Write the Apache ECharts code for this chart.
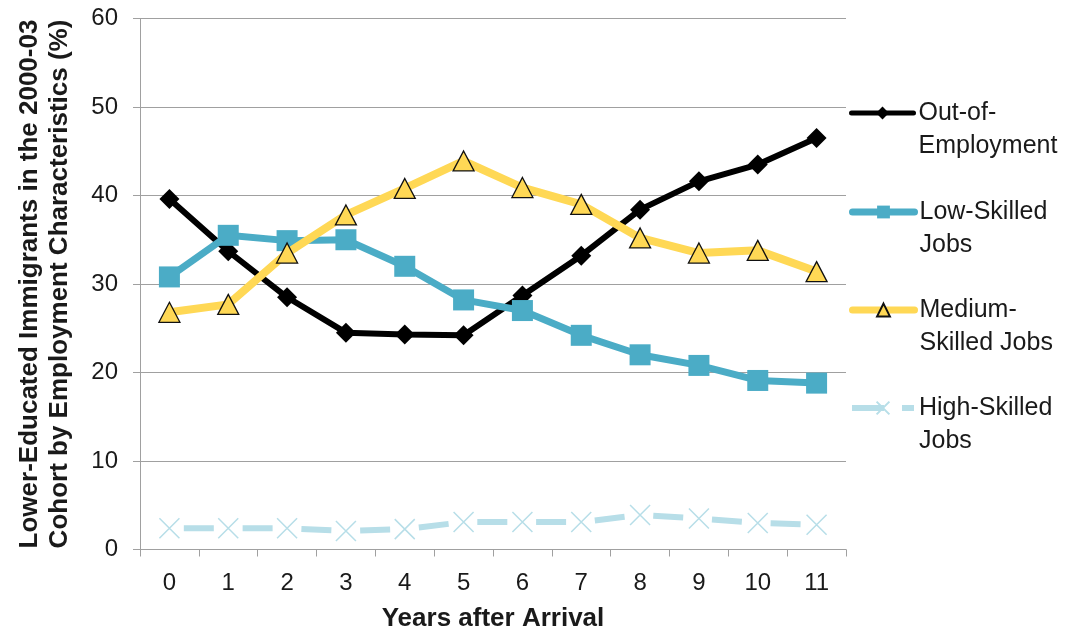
<!DOCTYPE html>
<html>
<head>
<meta charset="utf-8">
<script src="https://cdn.jsdelivr.net/npm/echarts@6/dist/echarts.min.js"></script>
<style>
  html, body { margin: 0; padding: 0; background: #fff; }
  #chart { width: 1066px; height: 630px; }
</style>
</head>
<body>
<div id="chart"></div>
<script>
// Years after arrival
const years = ['0', '1', '2', '3', '4', '5', '6', '7', '8', '9', '10', '11'];

// Share of lower-educated immigrants (2000-03 cohort), %
const outOfEmployment = [39.6, 33.7, 28.5, 24.5, 24.3, 24.2, 28.7, 33.2, 38.4, 41.6, 43.5, 46.5];
const lowSkilled      = [30.8, 35.5, 34.9, 35.0, 32.0, 28.2, 27.0, 24.2, 22.0, 20.8, 19.1, 18.8];
const mediumSkilled   = [26.8, 27.7, 33.5, 37.8, 40.8, 43.9, 40.9, 39.0, 35.2, 33.5, 33.8, 31.4];
const highSkilled     = [2.4, 2.4, 2.4, 2.1, 2.3, 3.1, 3.1, 3.1, 3.9, 3.5, 3.0, 2.8];

const seriesNames = ['Out-of-\nEmployment', 'Low-Skilled\nJobs', 'Medium-\nSkilled Jobs', 'High-Skilled\nJobs'];

const FONT = 'Liberation Sans, Arial, sans-serif';
const TEXT = '#1a1a1a';
const GRID = '#a0a0a0';

const BLACK = '#000000';
const BLUE = '#4bacc6';
const YELLOW = '#ffd855';
const PALE = '#b7dee8';

const chart = echarts.init(document.getElementById('chart'), null, { renderer: 'canvas' });

// One legend block per series; a leading blank line keeps the
// first text line level with the legend icon.
function legendFor(name, iconY, lineStyle) {
  return {
    data: [name],
    orient: 'vertical',
    left: 849,
    top: iconY - 49.5,
    padding: 0,
    itemWidth: 62,
    itemHeight: 16,
    itemGap: 0,
    selectedMode: false,
    formatter: n => '\n' + n,
    lineStyle: lineStyle,
    textStyle: {
      fontFamily: FONT,
      fontSize: 25,
      color: TEXT,
      lineHeight: 33
    }
  };
}

const option = {
  animation: false,
  backgroundColor: '#fff',
  grid: {
    left: 140, right: 220, top: 18.5, bottom: 80.5,
    containLabel: false,
    outerBoundsMode: 'none'
  },
  legend: [
    legendFor(seriesNames[0], 113, { width: 5, cap: 'round' }),
    legendFor(seriesNames[1], 212, { width: 7, cap: 'round' }),
    legendFor(seriesNames[2], 310, { width: 7, cap: 'round' }),
    legendFor(seriesNames[3], 408, { width: 6, type: [32, 18], dashOffset: 0, cap: 'butt' })
  ],
  xAxis: {
    type: 'category',
    data: years,
    boundaryGap: true,
    name: 'Years after Arrival',
    nameLocation: 'middle',
    nameGap: 56,
    nameTextStyle: { fontFamily: FONT, fontSize: 26, fontWeight: 'bold', color: TEXT },
    axisLine: { lineStyle: { color: GRID, width: 1 } },
    axisTick: { show: true, length: 7, alignWithLabel: false, lineStyle: { color: GRID } },
    axisLabel: { fontFamily: FONT, fontSize: 24, color: TEXT, margin: 22 },
    splitLine: { show: false }
  },
  yAxis: {
    type: 'value',
    min: 0,
    max: 60,
    interval: 10,
    name: 'Lower-Educated Immigrants in the 2000-03\nCohort by Employment Characteristics (%)',
    nameLocation: 'middle',
    nameGap: 65,
    nameTextStyle: { fontFamily: FONT, fontSize: 26, fontWeight: 'bold', color: TEXT, lineHeight: 30 },
    axisLine: { show: true, lineStyle: { color: GRID, width: 1 } },
    axisTick: { show: true, length: 7, lineStyle: { color: GRID } },
    axisLabel: { fontFamily: FONT, fontSize: 24, color: TEXT, margin: 22 },
    splitLine: { show: true, lineStyle: { color: GRID, width: 1 } }
  },
  series: [
    {
      name: seriesNames[0],
      type: 'line',
      data: outOfEmployment,
      symbol: 'diamond',
      symbolSize: [20, 20],
      lineStyle: { color: BLACK, width: 6 },
      itemStyle: { color: BLACK },
      z: 2
    },
    {
      name: seriesNames[1],
      type: 'line',
      data: lowSkilled,
      symbol: 'rect',
      symbolSize: 21,
      lineStyle: { color: BLUE, width: 7 },
      itemStyle: { color: BLUE },
      z: 3
    },
    {
      name: seriesNames[2],
      type: 'line',
      data: mediumSkilled,
      symbol: 'triangle',
      symbolSize: [21, 20],
      lineStyle: { color: YELLOW, width: 8 },
      itemStyle: { color: YELLOW, borderColor: '#111', borderWidth: 1.3 },
      z: 4
    },
    {
      name: seriesNames[3],
      type: 'line',
      data: highSkilled,
      symbol: 'path://M0,0 L10,10 M10,0 L0,10',
      symbolSize: [20, 20],
      lineStyle: { color: PALE, width: 6, type: [30, 28.8], dashOffset: 44.4, cap: 'butt' },
      itemStyle: { color: 'rgba(0,0,0,0)', borderColor: PALE, borderWidth: 1.5 },
      z: 5
    }
  ]
};

chart.setOption(option);
</script>
</body>
</html>
